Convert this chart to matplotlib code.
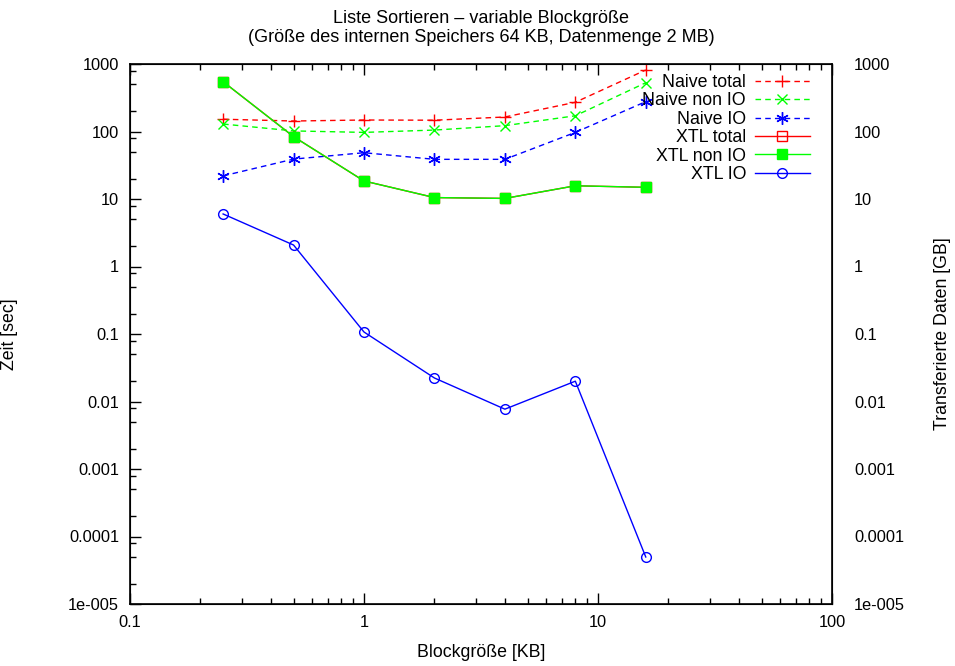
import matplotlib
matplotlib.use('Agg')
import matplotlib.pyplot as plt
from matplotlib.ticker import LogLocator, FixedLocator, FixedFormatter, NullFormatter

plt.rcParams['font.family'] = ['Liberation Sans', 'DejaVu Sans']
plt.rcParams['font.size'] = 12

# block sizes in KB
blocks = [0.25, 0.5, 1, 2, 4, 8, 16]

naive_total = [152, 143, 148, 147, 164, 271, 815]
naive_non_io = [129, 102, 97, 105, 122, 171, 528]
naive_io = [22, 39, 48.5, 38.7, 38.7, 97, 277]
xtl_total = [547, 84, 18.5, 10.5, 10.2, 15.7, 14.9]
xtl_non_io = [547, 84, 18.5, 10.5, 10.2, 15.7, 14.9]
xtl_io = [6.0, 2.08, 0.107, 0.0223, 0.0077, 0.020, 0.0000497]

ytick_vals = [1e-5, 1e-4, 1e-3, 1e-2, 1e-1, 1, 10, 100, 1000]
ytick_labels = ['1e-005', '0.0001', '0.001', '0.01', '0.1', '1', '10', '100', '1000']
xtick_vals = [0.1, 1, 10, 100]
xtick_labels = ['0.1', '1', '10', '100']

fig = plt.figure(figsize=(9.55, 6.66), dpi=100)
ax = fig.add_axes([130 / 955, 1 - 604 / 666, 702 / 955, 540 / 666])

lw = 1.0
dash = (0, (4, 3))
ax.plot(blocks, naive_total, color='#ff0000', ls=dash, lw=lw,
        marker='+', ms=9, mew=1, label='Naive total')
ax.plot(blocks, naive_non_io, color='#00ff00', ls=dash, lw=lw,
        marker='x', ms=7, mew=1, label='Naive non IO')
ax.plot(blocks, naive_io, color='#0000ff', ls=dash, lw=lw,
        marker=(6, 2, 0), ms=9, mew=1, label='Naive IO')
ax.plot(blocks, xtl_total, color='#ff0000', lw=lw,
        marker='s', ms=7.5, mfc='none', mew=1, label='XTL total')
ax.plot(blocks, xtl_non_io, color='#00ff00', lw=lw,
        marker='s', ms=6.8, mec='#00ff00', label='XTL non IO')
ax.plot(blocks, xtl_io, color='#0000ff', lw=lw,
        marker='o', ms=7, mfc='none', mew=1, label='XTL IO')

ax.set_xscale('log')
ax.set_yscale('log')
ax.set_xlim(0.1, 100)
ax.set_ylim(1e-5, 1000)

ax.xaxis.set_major_locator(FixedLocator(xtick_vals))
ax.xaxis.set_major_formatter(FixedFormatter(xtick_labels))
ax.xaxis.set_minor_locator(LogLocator(base=10, subs=range(2, 10), numticks=20))
ax.xaxis.set_minor_formatter(NullFormatter())
ax.yaxis.set_major_locator(FixedLocator(ytick_vals))
ax.yaxis.set_major_formatter(FixedFormatter(ytick_labels))
ax.yaxis.set_minor_locator(LogLocator(base=10, subs=(2, 5, 8), numticks=20))
ax.yaxis.set_minor_formatter(NullFormatter())

ax.tick_params(which='both', direction='in', top=True, right=True, width=1,
               labelsize=11.8)
ax.tick_params(which='major', length=8, pad=8)
ax.tick_params(which='minor', length=4)
for s in ax.spines.values():
    s.set_linewidth(1.2)

# mirrored labels on the right-hand side
ax2 = ax.twinx()
ax2.set_yscale('log')
ax2.set_ylim(ax.get_ylim())
ax2.yaxis.set_major_locator(FixedLocator(ytick_vals))
ax2.yaxis.set_major_formatter(FixedFormatter(ytick_labels))
ax2.yaxis.set_minor_locator(FixedLocator([]))
ax2.tick_params(which='both', direction='in', length=0, pad=16, labelsize=11.8)
ax2.set_ylabel('Transferierte Daten [GB]', fontsize=12.8)
ax2.yaxis.set_label_coords(1.146, 0.5)

ax.set_xlabel('Blockgröße [KB]', fontsize=12.8, labelpad=10)
ax.set_ylabel('Zeit [sec]', fontsize=12.8)
ax.yaxis.set_label_coords(-0.159, 0.5)
ax.set_title('Liste Sortieren \u2013 variable Blockgröße\n'
             '(Größe des internen Speichers 64 KB, Datenmenge 2 MB)',
             fontsize=13, linespacing=1.1, pad=16)

leg = ax.legend(loc='upper right', bbox_to_anchor=(1 - 22 / 702, 1 - 10 / 540),
                markerfirst=False, frameon=False, handlelength=3.1,
                labelspacing=0.08, handletextpad=0.5, borderpad=0,
                borderaxespad=0, fontsize=12.8)

fig.savefig('out.png', dpi=100)
